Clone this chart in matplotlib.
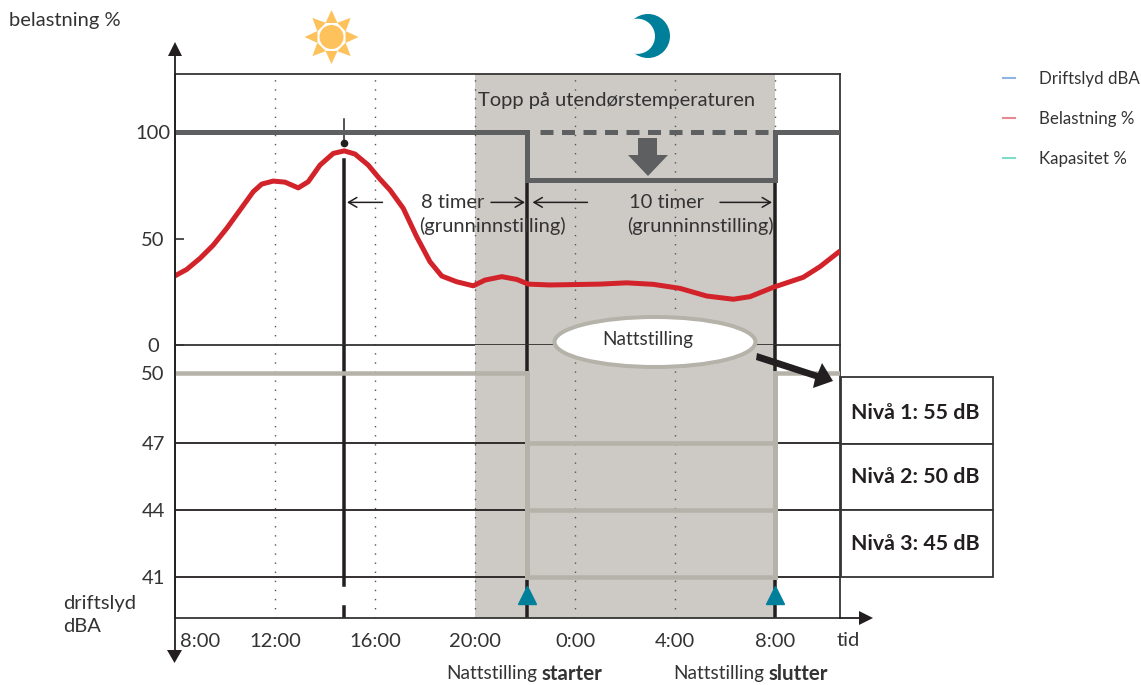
import matplotlib
matplotlib.use('Agg')
import matplotlib.pyplot as plt
from matplotlib.patches import Polygon, Circle, Ellipse, Rectangle
import numpy as np

plt.rcParams['font.family'] = ['Lato', 'DejaVu Sans']

# hours since midnight of the first day (8:00 -> 8, next day 8:00 -> 32)
load_hours = [8.00, 8.47, 9.00, 9.53, 10.07, 10.60, 11.13, 11.47, 11.93, 12.40, 12.93, 13.33, 13.80, 14.33,
              14.77, 15.20, 15.73, 16.17, 16.60, 17.13, 17.67, 18.20, 18.67, 19.27, 19.93, 20.40, 21.07,
              21.67, 22.13, 23.00, 25.00, 26.07, 27.13, 28.20, 29.27, 30.33, 31.00, 31.93, 33.13, 33.80, 34.53]
load_values = [32.5, 35.5, 40.7, 46.9, 54.8, 63.4, 72.0, 75.6, 77.0, 76.5, 73.8, 76.7, 84.5, 90.0,
               91.2, 89.7, 84.5, 78.3, 72.8, 64.2, 50.8, 39.1, 32.4, 29.7, 27.8, 30.5, 32.1,
               30.8, 28.6, 28.2, 28.6, 29.2, 28.5, 26.6, 23.0, 21.5, 22.7, 27.1, 31.8, 36.8, 43.5]
night_start = 22.08
night_end = 32
capacity_hours = [8, night_start, night_start, night_end, night_end, 34.6]
capacity_values = [100, 100, 77.5, 77.5, 100, 100]
load_ticks = [0, 50, 100]
# where the sound levels sit in the picture, the axis is not quite even
dba_levels = [41, 43.96, 46.9, 50]
dba_labels = ['41', '44', '47', '50']
time_ticks = [12, 16, 20, 24, 28, 32]
time_labels = ['12:00', '16:00', '20:00', '0:00', '4:00', '8:00']
levels = ['Nivå 1: 55 dB', 'Nivå 2: 50 dB', 'Nivå 3: 45 dB']
legend_names = ['Driftslyd dBA', 'Belastning %', 'Kapasitet %']
legend_colors = ['#8fb4e3', '#e58a8f', '#7fdccb']

W, H = 1141, 685
DARK = '#5d5f61'
BAND = '#cdcac5'
GREY = '#b5b2a9'
TXT = '#333333'
BLACK = '#231f20'
TEAL = '#007f9b'
px = 0.72  # one pixel in points
FS = 14.5


def axes_box(left, top, right, bottom):
    return [left / W, 1 - bottom / H, (right - left) / W, (bottom - top) / H]


fig = plt.figure(figsize=(W / 100, H / 100), dpi=100)
ax = fig.add_axes(axes_box(175, 74, 840, 345))
low = fig.add_axes(axes_box(175, 345, 840, 618))
low.patch.set_visible(False)
over = fig.add_axes([0, 0, 1, 1], zorder=5)
over.set_xlim(0, W)
over.set_ylim(H, 0)
over.axis('off')

for a in (ax, low):
    a.set_xlim(8, 34.6)
    a.axvspan(20, 32, color=BAND, lw=0, zorder=0)
    for t in time_ticks:
        a.axvline(t, color='#555555', lw=1.4 * px, ls=(0, (1, 5.5)), zorder=1)
    for s in a.spines.values():
        s.set_linewidth(1.8 * px)
        s.set_color('#333333')
ax.set_ylim(0, 127.3)
low.set_ylim(39.19, 51.25)

# upper panel
ax.set_xticks([])
ax.set_yticks(load_ticks)
ax.set_yticklabels(load_ticks, fontsize=FS, color=TXT, ha='center')
ax.tick_params(axis='y', direction='in', length=6.5, width=1.1, color=BLACK, pad=15.8)
ax.plot([14.76, 14.76], [0, 87], color=BLACK, lw=3.5 * px, zorder=2)
ax.plot([14.76, 14.76], [95, 106], color=BLACK, lw=1.5 * px, zorder=2)
ax.plot([14.76], [95], 'o', color=BLACK, ms=4.5, zorder=2)
ax.plot([night_start, night_start], [0, 77.5], color=BLACK, lw=3.5 * px, zorder=2)
ax.plot([night_end, night_end], [0, 77.5], color=BLACK, lw=3.5 * px, zorder=2)
ax.plot(load_hours, load_values, color='#d2232a', lw=5 * px, zorder=3, solid_joinstyle='round')
ax.plot(capacity_hours, capacity_values, color=DARK, lw=5 * px, zorder=4, solid_joinstyle='miter')
ax.plot([22.6, night_end], [100, 100], color=DARK, lw=5 * px, ls=(0, (2.6, 1.7)), zorder=4)
ax.text(25.66, 115, 'Topp på utendørstemperaturen', ha='center', va='center', fontsize=FS, color=TXT)
ax.text(19.1, 67, '8 timer', ha='center', va='center', fontsize=FS, color=TXT, zorder=6)
ax.text(20.7, 56, '(grunninnstilling)', ha='center', va='center', fontsize=FS, color=TXT, zorder=6)
ax.text(27.66, 67, '10 timer', ha='center', va='center', fontsize=FS, color=TXT, zorder=6)
ax.text(29.0, 56, '(grunninnstilling)', ha='center', va='center', fontsize=FS, color=TXT, zorder=6)
arrow_style = dict(arrowstyle='->,head_length=0.6,head_width=0.35', color=BLACK, lw=1.1,
                   shrinkA=0, shrinkB=0)
for start, end in [(16.3, 14.88), (20.64, 22.0), (24.5, 22.3), (29.8, 31.88)]:
    ax.annotate('', xy=(end, 67), xytext=(start, 67), arrowprops=arrow_style, zorder=6)

# lower panel
low.set_xticks(time_ticks)
low.set_xticklabels(time_labels, fontsize=FS, color=TXT)
low.tick_params(axis='x', length=0, pad=10.5)
low.set_yticks(dba_levels)
low.set_yticklabels(dba_labels, fontsize=FS, color=TXT, ha='center')
low.tick_params(axis='y', length=0, pad=15.8)
low.spines['top'].set_visible(False)
for d in dba_levels[:3]:
    low.axhline(d, color=BLACK, lw=1.8 * px, zorder=1)
low.plot([14.76, 14.76], [51.25, 40.65], color=BLACK, lw=3.5 * px, zorder=2)
low.plot([14.76, 14.76], [39.68, 39.19], color=BLACK, lw=3.5 * px, zorder=2)
for x in [night_start, night_end]:
    low.plot([x, x], [51.25, 39.19], color=BLACK, lw=3.5 * px, zorder=2)
    low.plot([x, x], [50, 41], color=GREY, lw=5 * px, zorder=3)
    low.plot([x], [40.2], marker='^', color=TEAL, ms=12.5, zorder=4, ls='none')
low.plot([8, night_start], [50, 50], color=GREY, lw=4.5 * px, zorder=3)
low.plot([night_end, 34.6], [50, 50], color=GREY, lw=4.5 * px, zorder=3)
for d in dba_levels[:3]:
    low.plot([night_start, night_end], [d, d], color=GREY, lw=4.5 * px, zorder=3)
low.text(9.0, 38.13, '8:00', ha='center', va='center', fontsize=FS, color=TXT)

# outside the panels
over.plot([175, 175], [50, 655], color=BLACK, lw=1.8 * px)
over.plot([840, 865], [618, 618], color=BLACK, lw=1.8 * px)
over.add_patch(Polygon([[168, 56], [182, 56], [175, 42]], color=BLACK, lw=0))
over.add_patch(Polygon([[167, 650], [182, 650], [174.5, 663]], color=BLACK, lw=0))
over.add_patch(Polygon([[859, 611], [859, 625], [873, 618]], color=BLACK, lw=0))
over.text(9, 20, 'belastning %', ha='left', va='center', fontsize=FS, color=TXT)
over.text(63, 603, 'driftslyd', ha='left', va='center', fontsize=FS, color=TXT)
over.text(63, 627, 'dBA', ha='left', va='center', fontsize=FS, color=TXT)
over.text(848, 641, 'tid', ha='center', va='center', fontsize=FS, color=TXT)
over.text(446, 674, 'Nattstilling', ha='left', va='center', fontsize=13.7, color=TXT)
over.text(542, 674, 'starter', ha='left', va='center', fontsize=14.8, color=TXT, fontweight='bold')
over.text(673, 674, 'Nattstilling', ha='left', va='center', fontsize=13.7, color=TXT)
over.text(769, 674, 'slutter', ha='left', va='center', fontsize=14.8, color=TXT, fontweight='bold')

# level table
rows = [377, 443.5, 510, 577]
level_y = [413, 477, 544]
for i, name in enumerate(levels):
    over.add_patch(Rectangle((841, rows[i]), 152, rows[i + 1] - rows[i], fc='white', ec='#333333', lw=1.8 * px))
    over.text(915.5, level_y[i], name, ha='center', va='center', fontsize=15.4,
              fontweight='bold', color=BLACK)

# night mode label and arrow
over.add_patch(Ellipse((655, 342), 201, 50, fc='white', ec=GREY, lw=4 * px))
over.text(647.5, 339, 'Nattstilling', ha='center', va='center', fontsize=13.7, color=TXT)
over.add_patch(Polygon([[757, 353], [818, 373], [822, 363], [833, 381], [813, 388], [815, 379], [756, 360]],
                       color=BLACK, lw=0, zorder=6))

# down arrow on capacity
over.add_patch(Polygon([[638, 138], [657, 138], [657, 155], [668, 155], [648, 176], [628, 155], [638, 155]],
                       color=DARK, lw=0))

# sun and moon
sun = (331.5, 37)
for k in range(8):
    ang = k * np.pi / 4
    d = np.array([np.cos(ang), np.sin(ang)])
    n = np.array([-d[1], d[0]])
    base = np.array(sun) + d * 14
    tip = np.array(sun) + d * 27
    over.add_patch(Polygon([base + n * 6, base - n * 6, tip], color='#fdc25c', lw=0))
over.add_patch(Circle(sun, 12, color='#fdc25c', lw=0))
over.add_patch(Circle((648, 36), 22, color=TEAL, lw=0))
over.add_patch(Circle((637.4, 36.3), 17.6, color='white', lw=0))

# legend
handles = [plt.Line2D([], [], color=c, lw=1.5) for c in legend_colors]
over.legend(handles, legend_names, loc='upper left', bbox_to_anchor=(1003 / W, 1 - 71 / H),
            bbox_transform=fig.transFigure, frameon=False, fontsize=12.2, handlelength=0.7,
            handletextpad=1.45, labelspacing=1.42, labelcolor=TXT, borderaxespad=0, borderpad=0)

fig.savefig('out.png', dpi=100)
